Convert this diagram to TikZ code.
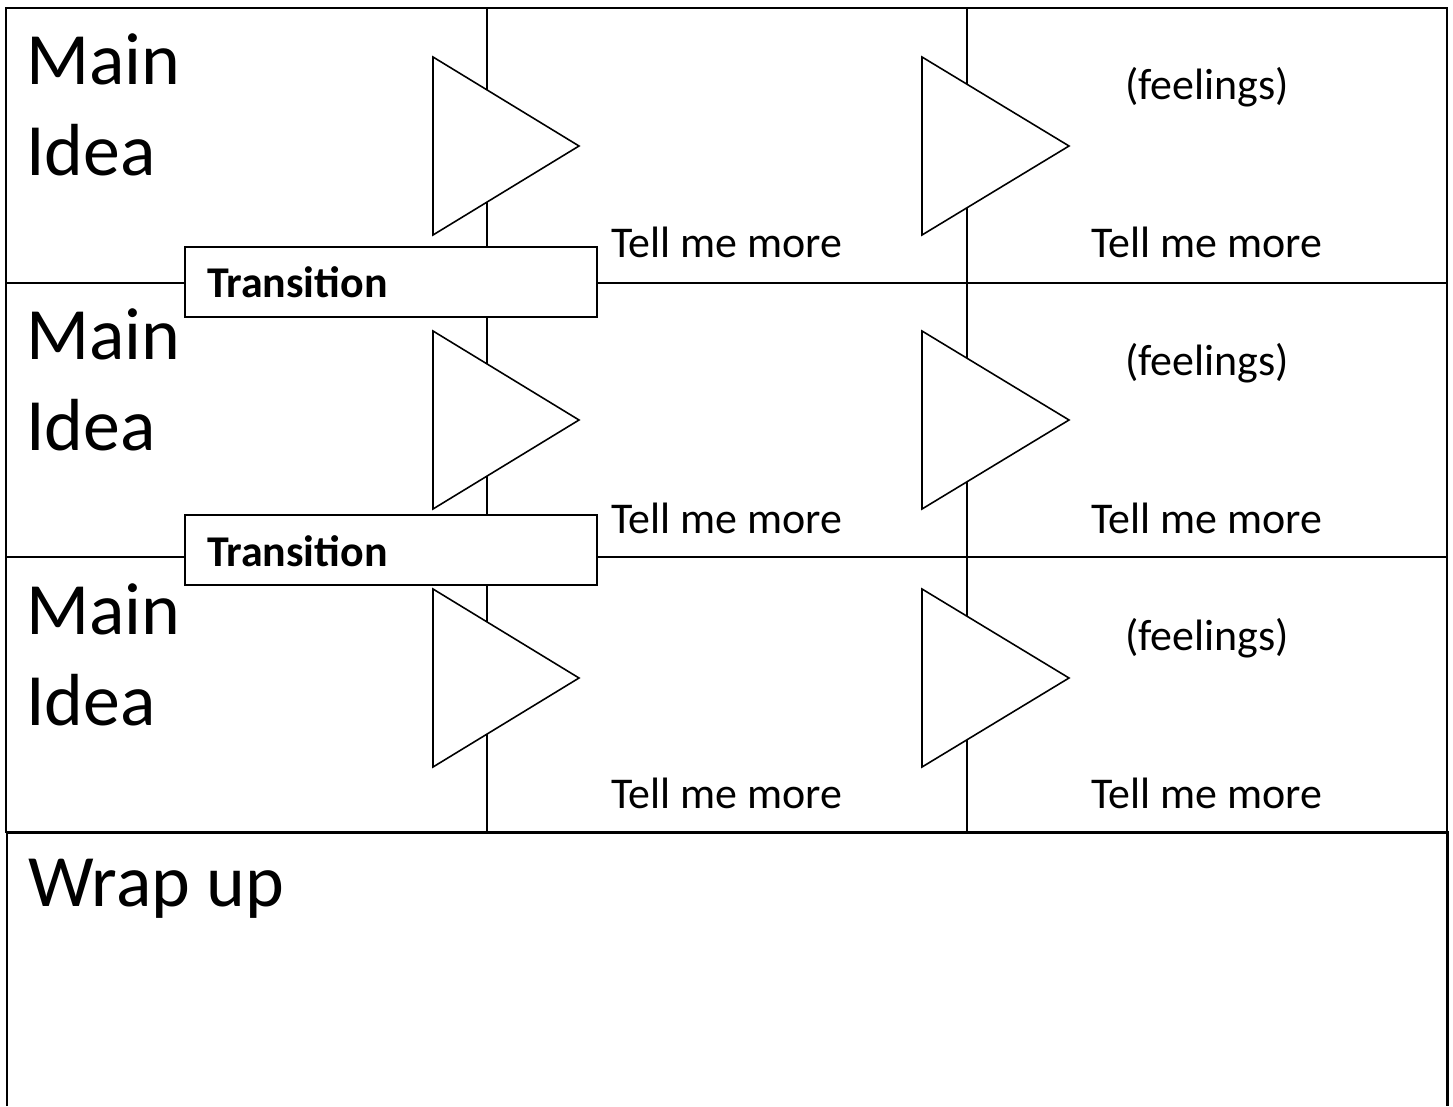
\documentclass[tikz,border=0pt]{standalone}
\usepackage{fontspec}
\setmainfont{Carlito}
\newcommand{\bigsize}{\fontsize{42}{52}\selectfont}
\newcommand{\smallsize}{\fontsize{25}{30}\selectfont}

\begin{document}
\begin{tikzpicture}[x=0.2mm, y=-0.2mm,
    grid/.style={line width=1.3pt},
    arrowtri/.style={line width=0.9pt, fill=white},
    transbox/.style={draw, line width=1.5pt, fill=white, font=\smallsize\bfseries,
      minimum width=82.4mm, minimum height=14mm, text width=73.6mm, inner xsep=4.4mm,
      inner ysep=0pt, align=left, text height=6.4mm, text depth=0pt},
    heading/.style={font=\bigsize, inner sep=0pt, align=left},
    note/.style={font=\smallsize, inner sep=0pt}]
    \useasboundingbox (0,0) rectangle (1453,1106);

    % Table
    \draw[grid] (6,8) rectangle (1447,832);
    \foreach \y in {283,557} \draw[grid] (6,\y) -- (1447,\y);
    \foreach \x in {487,967} \draw[grid] (\x,8) -- (\x,832);
    % Wrap up box, open at the bottom
    \draw[grid, line width=1.7pt] (7,1106) -- (7,832) -- (1447,832) -- (1447,1106);

    % Triangles
    \foreach \t in {57,331,589}{
        \filldraw[arrowtri] (433,\t) -- ++(146,89) -- ++(-146,89) -- cycle;
        \filldraw[arrowtri] (922,\t) -- ++(147,89) -- ++(-147,89) -- cycle;
    }

    % Texts of the rows
    \foreach \r [count=\i] in {0,275,550}{
        \node[heading, anchor=north west] (main\i) at (26,33+\r) {Main\\Idea};
        \node[note, anchor=base] (feel\i) at (1207,100+\r) {(feelings)};
        \node[note, anchor=base] (tellb\i) at (727,258+\r) {Tell me more};
        \node[note, anchor=base] (tellc\i) at (1207,258+\r) {Tell me more};
    }

    % Transitions
    \node[transbox] (trans1) at (391,282) {Transition};
    \node[transbox] (trans2) at (391,550) {Transition};

    \node[heading, anchor=base west] (wrap) at (28,906) {Wrap up};
\end{tikzpicture}
\end{document}
